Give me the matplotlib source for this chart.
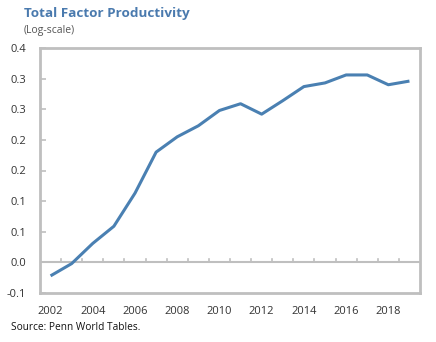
import matplotlib
matplotlib.use('Agg')
import matplotlib.pyplot as plt
import numpy as np

plt.rcParams['font.family'] = ['Open Sans', 'DejaVu Sans']

# ── Data ──────────────────────────────────────────────────────────────────────
years = list(range(2002, 2020))
tfp = [-0.022, -0.002, 0.031, 0.059, 0.113, 0.180, 0.205, 0.223, 0.248,
       0.259, 0.242, 0.264, 0.287, 0.293, 0.306, 0.306, 0.290, 0.296]

y_ticks = [-0.05, 0.0, 0.05, 0.10, 0.15, 0.20, 0.25, 0.30, 0.35]
y_labels = ['-0.1', '0.0', '0.1', '0.1', '0.2', '0.2', '0.3', '0.3', '0.4']
x_labels = [str(y) for y in range(2002, 2019, 2)]

TITLE_COL = '#4a7aae'
LINE_COL = '#4a80b2'
GRID_COL = '#bfbfbf'
TEXT_COL = '#333333'

# ── Figure ────────────────────────────────────────────────────────────────────
W, H = 436, 342
fig = plt.figure(figsize=(W / 100, H / 100), dpi=100)
ax = fig.add_axes([40 / W, 1 - 293 / H, 380 / W, (293 - 48) / H])

ax.plot(years, tfp, color=LINE_COL, lw=2.2, solid_capstyle='butt', zorder=3)

ax.set_xlim(2001.5, 2019.5)
ax.set_ylim(-0.05, 0.35)

# zero line with category ticks pointing up
ax.axhline(0, color=GRID_COL, lw=1.5, zorder=1)
for b in np.arange(2002.5, 2019.5, 1):
    ax.plot([b, b], [0, 0.006], color=GRID_COL, lw=1.2, zorder=1)

ax.set_yticks(y_ticks)
ax.set_yticklabels(y_labels)
ax.set_xticks(range(2002, 2019, 2))
ax.set_xticklabels(x_labels)
ax.tick_params(axis='y', direction='in', length=4, width=1.2, color=GRID_COL,
               labelsize=8, labelcolor=TEXT_COL, pad=10)
ax.tick_params(axis='x', length=0, labelsize=8, labelcolor=TEXT_COL, pad=9)

for s in ax.spines.values():
    s.set_color(GRID_COL)
    s.set_linewidth(2)

fig.text(24 / W, 1 - 13 / H, 'Total Factor Productivity', fontsize=9.7,
         fontweight='bold', color=TITLE_COL, va='center', ha='left')
fig.text(24 / W, 1 - 31 / H, '(Log-scale)', fontsize=7.5, color='#555555',
         va='center', ha='left')
fig.text(11 / W, 1 - 328 / H, 'Source: Penn World Tables.', fontsize=7.3,
         color='#111111', va='center', ha='left')

fig.savefig('out.png', dpi=100)
